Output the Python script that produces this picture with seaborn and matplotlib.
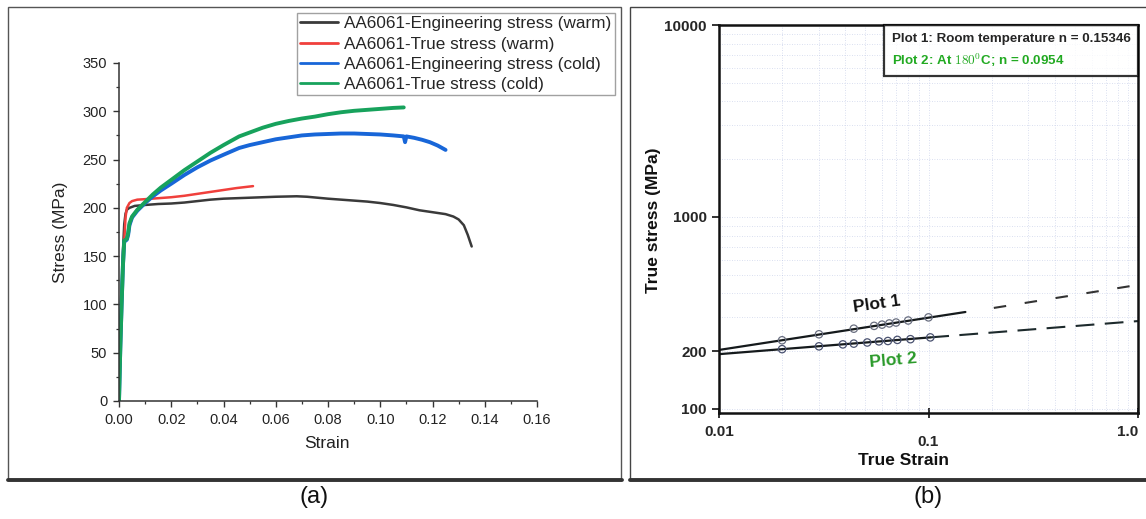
import numpy as np
import pandas as pd
import matplotlib
matplotlib.use("Agg")
import matplotlib.pyplot as plt
import seaborn as sns
from matplotlib.patches import Rectangle
from matplotlib.lines import Line2D
from matplotlib.ticker import MultipleLocator, LogLocator, NullFormatter

# ---------------- Panel (a) data ----------------
eng_warm_strain = [0, 0.0005, 0.001, 0.0015, 0.002, 0.0025, 0.003, 0.004, 0.006, 0.01, 0.015, 0.02,
                   0.025, 0.03, 0.035, 0.04, 0.045, 0.05, 0.055, 0.06, 0.065, 0.068, 0.072, 0.076,
                   0.08, 0.085, 0.09, 0.095, 0.1, 0.105, 0.11, 0.115, 0.12, 0.125, 0.128, 0.13,
                   0.132, 0.1335, 0.135]
eng_warm_stress = [0, 60, 110, 155, 183, 194, 198, 200, 202, 203, 204, 204.5, 205.5, 207, 208.5,
                   209.5, 210, 210.5, 211, 211.5, 211.8, 212, 211.5, 210.5, 209.5, 208.5, 207.5,
                   206.5, 205, 203, 200.5, 197.5, 195.5, 193.5, 191, 188, 182, 172, 160]

true_warm_strain = [0, 0.0005, 0.001, 0.0015, 0.002, 0.0025, 0.003, 0.004, 0.005, 0.007, 0.01,
                    0.015, 0.02, 0.025, 0.03, 0.035, 0.04, 0.045, 0.0513]
true_warm_stress = [0, 55, 100, 140, 165, 190, 200, 205, 207, 208.5, 209, 210, 211, 212.5, 214.5,
                    216.5, 218.5, 220.5, 222.5]

eng_cold_strain = [0, 0.0005, 0.001, 0.0015, 0.002, 0.003, 0.0035, 0.004, 0.005, 0.007, 0.01,
                   0.013, 0.016, 0.02, 0.025, 0.03, 0.035, 0.04, 0.046, 0.05, 0.055, 0.06, 0.065,
                   0.07, 0.075, 0.08, 0.085, 0.09, 0.095, 0.1, 0.105, 0.109, 0.1095, 0.11, 0.113,
                   0.116, 0.119, 0.122, 0.125]
eng_cold_stress = [0, 55, 100, 140, 165, 167, 172, 182, 190, 197, 205, 212, 218, 225, 234, 242,
                   249, 255, 262, 265, 268, 271, 273, 275, 276, 276.5, 277, 277, 276.5, 276, 275,
                   274, 268, 274, 272.5, 270.5, 268, 264.5, 260]

true_cold_strain = [0, 0.0005, 0.001, 0.0015, 0.002, 0.003, 0.0035, 0.004, 0.005, 0.007, 0.01,
                    0.013, 0.016, 0.02, 0.025, 0.03, 0.035, 0.04, 0.046, 0.05, 0.055, 0.06, 0.065,
                    0.07, 0.075, 0.08, 0.085, 0.09, 0.095, 0.1, 0.105, 0.109]
true_cold_stress = [0, 55, 100, 140, 166, 168, 174, 184, 191, 198, 206, 214, 221, 229, 239, 248,
                    257, 265, 274, 278, 283, 287, 290, 292.5, 294.5, 297, 299, 300.5, 301.5, 302.5,
                    303.5, 304]

series_a_labels = ["AA6061-Engineering stress (warm)", "AA6061-True stress (warm)",
                   "AA6061-Engineering stress (cold)", "AA6061-True stress (cold)"]
series_a_colors = ["#3a3a3a", "#f0403c", "#1866d8", "#17a25c"]
series_a_widths = [1.8, 1.8, 2.8, 2.8]

# ---------------- Panel (b) data ----------------
plot1_fit_strain = [0.01, 0.15]
plot1_fit_stress = [203, 320]
plot1_ext_strain = [0.205, 1.0]
plot1_ext_stress = [336, 443]
plot1_pts_strain = [0.02, 0.03, 0.044, 0.055, 0.06, 0.065, 0.07, 0.08, 0.1]
plot1_pts_stress = [228, 245, 262, 271, 275, 279, 282, 289, 300]

plot2_fit_strain = [0.01, 0.102]
plot2_fit_stress = [193, 236]
plot2_ext_strain = [0.102, 1.0]
plot2_ext_stress = [236, 287]
plot2_pts_strain = [0.02, 0.03, 0.039, 0.044, 0.051, 0.058, 0.064, 0.071, 0.082, 0.102]
plot2_pts_stress = [205, 212, 217, 219, 222, 225, 226, 229, 231, 236]

b_yticks = [100, 200, 1000, 10000]
b_yticklabels = ["100", "200", "1000", "10000"]
b_xticks = [0.01, 0.1, 1.0]
b_xticklabels = ["0.01", "0.1", "1.0"]

# ---------------- Style ----------------
sns.set_style("ticks")
plt.rcParams['font.family'] = ['Liberation Sans', 'DejaVu Sans']
plt.rcParams['mathtext.fontset'] = 'cm'

W, H = 1146, 519
fig = plt.figure(figsize=(W / 100, H / 100), dpi=100)
fig.patch.set_facecolor("white")


def fx(px):
    return px / W


def fy(py):
    return 1 - py / H


# Panel frames
fig.patches.append(Rectangle((fx(8), fy(480)), fx(621) - fx(8), fy(7) - fy(480),
                             transform=fig.transFigure, fill=False, edgecolor="#555555", lw=1.0))
fig.lines.append(Line2D([fx(8), fx(622)], [fy(480), fy(480)], transform=fig.transFigure,
                        color="#333333", lw=2.8))
fig.patches.append(Rectangle((fx(630), fy(480)), fx(1160) - fx(630), fy(7) - fy(480),
                             transform=fig.transFigure, fill=False, edgecolor="#444444", lw=1.0))
fig.lines.append(Line2D([fx(630), fx(1146)], [fy(480), fy(480)], transform=fig.transFigure,
                        color="#333333", lw=2.8))

# ---------------- Panel (a) ----------------
axa = fig.add_axes([fx(119), fy(401), 418 / W, 338 / H])
series_a = [(eng_warm_strain, eng_warm_stress), (true_warm_strain, true_warm_stress),
            (eng_cold_strain, eng_cold_stress), (true_cold_strain, true_cold_stress)]
for (sx, sy), lab, col, lw in zip(series_a, series_a_labels, series_a_colors, series_a_widths):
    df = pd.DataFrame({"strain": sx, "stress": sy})
    sns.lineplot(data=df, x="strain", y="stress", ax=axa, color=col, lw=lw, sort=False,
                 estimator=None, label=lab, legend=False)

axa.set_xlim(0, 0.16)
axa.set_ylim(0, 350)
axa.xaxis.set_major_locator(MultipleLocator(0.02))
axa.xaxis.set_minor_locator(MultipleLocator(0.01))
axa.yaxis.set_major_locator(MultipleLocator(50))
axa.yaxis.set_minor_locator(MultipleLocator(25))
axa.xaxis.set_major_formatter(matplotlib.ticker.FormatStrFormatter("%.2f"))
for s in ["top", "right"]:
    axa.spines[s].set_visible(False)
for s in ["left", "bottom"]:
    axa.spines[s].set_color("#333333")
    axa.spines[s].set_linewidth(1.1)
axa.tick_params(which="major", direction="out", length=4.5, width=1.0, color="#333333",
                labelsize=10.5, labelcolor="#222222", pad=4)
axa.tick_params(which="minor", direction="out", length=2.5, width=0.9, color="#333333")
axa.set_xlabel("Strain", fontsize=12.5, color="#222222")
axa.set_ylabel("Stress (MPa)", fontsize=12.5, color="#222222")
axa.xaxis.set_label_coords((327 - 119) / 418, (401 - 436) / 338)
axa.yaxis.set_label_coords((68 - 119) / 418, 0.5)
axa.set_facecolor("none")

handles = [Line2D([], [], color=c, lw=2.0) for c in series_a_colors]
leg_a = axa.legend(handles, series_a_labels, loc="upper left",
                   bbox_to_anchor=(fx(297), fy(13)), bbox_transform=fig.transFigure,
                   frameon=True, fancybox=False, edgecolor="#8a8a8a", fontsize=12.3,
                   handlelength=2.2, handletextpad=0.35, labelspacing=0.3, borderpad=0.2,
                   borderaxespad=0)
leg_a.get_frame().set_linewidth(1.0)

# ---------------- Panel (b) ----------------
axb = fig.add_axes([fx(719), fy(413), 419 / W, 388 / H])
axb.set_xscale("log")
axb.set_yscale("log")
axb.set_xlim(0.01, 1.0)
axb.set_ylim(95.3, 10000)

axb.xaxis.set_minor_locator(LogLocator(base=10, subs=np.arange(2, 10)))
axb.yaxis.set_minor_locator(LogLocator(base=10, subs=np.arange(2, 10)))
axb.xaxis.set_minor_formatter(NullFormatter())
axb.yaxis.set_minor_formatter(NullFormatter())
axb.grid(which="both", color="#b9c3e3", lw=0.6, ls=(0, (1, 2)), alpha=0.7)

line_col = "#151a1c"
sns.lineplot(x=plot1_fit_strain, y=plot1_fit_stress, ax=axb, color=line_col, lw=1.6)
sns.lineplot(x=plot1_ext_strain, y=plot1_ext_stress, ax=axb, color="#333333", lw=1.5,
             linestyle=(0, (6, 9)))
sns.lineplot(x=plot2_fit_strain, y=plot2_fit_stress, ax=axb, color=line_col, lw=1.6)
sns.lineplot(x=plot2_ext_strain, y=plot2_ext_stress, ax=axb, color="#1d2a2c", lw=1.5,
             linestyle=(0, (9, 5)))
sns.scatterplot(x=plot1_pts_strain, y=plot1_pts_stress, ax=axb, marker="o", s=28,
                facecolor="none", edgecolor="#6a6f80", linewidth=0.9, zorder=3)
sns.scatterplot(x=plot2_pts_strain, y=plot2_pts_stress, ax=axb, marker="o", s=28,
                facecolor="none", edgecolor="#4a5270", linewidth=0.9, zorder=3)

axb.text(0.0568, 352, "Plot 1", fontsize=12.5, fontweight="bold", color="#111111",
         rotation=8, ha="center", va="center")
axb.text(0.0678, 180, "Plot 2", fontsize=12.5, fontweight="bold", color="#2a9a2a",
         rotation=5, ha="center", va="center")

axb.set_yticks(b_yticks)
axb.set_yticklabels(b_yticklabels)
axb.set_xticks(b_xticks)
axb.set_xticklabels(b_xticklabels)
for lab in axb.get_xticklabels() + axb.get_yticklabels():
    lab.set_fontweight("bold")
axb.get_xticklabels()[-1].set_horizontalalignment("right")
axb.tick_params(axis="y", which="major", direction="out", length=5, width=1.2, color="#111111",
                labelsize=11, pad=4)
axb.tick_params(axis="x", which="major", direction="inout", length=7, width=1.2, color="#111111",
                labelsize=11, pad=5)
axb.tick_params(which="minor", length=0)
for s in axb.spines.values():
    s.set_color("#111111")
    s.set_linewidth(1.8)

axb.set_xlabel("True Strain", fontsize=12.5, fontweight="bold", color="#111111")
axb.set_ylabel("True stress (MPa)", fontsize=12.5, fontweight="bold", color="#111111")
axb.xaxis.set_label_coords((903 - 719) / 419, (413 - 453) / 388)
axb.yaxis.set_label_coords((661 - 719) / 419, (413 - 220) / 388)

leg_handles = [Line2D([], [], lw=0), Line2D([], [], lw=0)]
leg_labels = ["Plot 1: Room temperature n = 0.15346", "Plot 2: At $180^0$C; n = 0.0954"]
leg_b = axb.legend(leg_handles, leg_labels, loc="upper right", bbox_to_anchor=(1.0, 1.0),
                   frameon=True, fancybox=False, edgecolor="#000000",
                   prop={"weight": "bold", "size": 9.6}, handlelength=0, handletextpad=0,
                   labelspacing=0.5, borderpad=0.55, borderaxespad=0)
leg_b.get_frame().set_linewidth(1.6)
leg_b.get_texts()[1].set_color("#22aa22")

# x tick label 0.1 sits lower
fig.canvas.draw()
axb.xaxis.get_major_ticks()[1].set_pad(12)
axb.get_xticklabels()[-1].set_horizontalalignment("right")

fig.text(fx(314), fy(497), "(a)", ha="center", va="center", fontsize=17, color="#111111")
fig.text(fx(928), fy(497), "(b)", ha="center", va="center", fontsize=17, color="#111111")

fig.savefig("out.png", dpi=100, facecolor="white")
